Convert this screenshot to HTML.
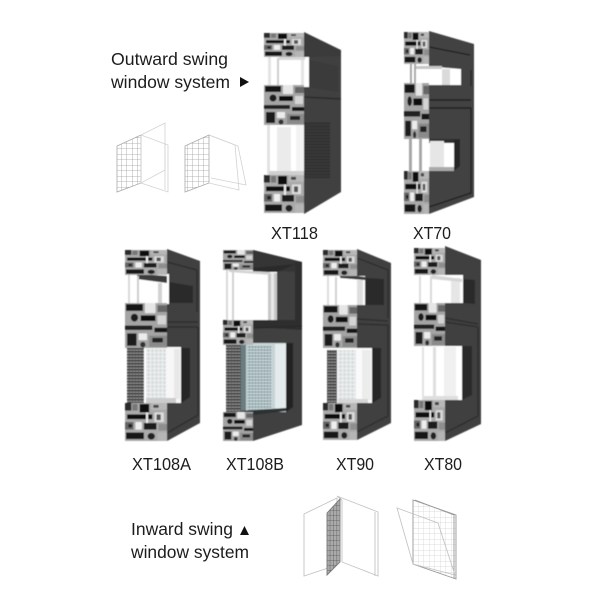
<!DOCTYPE html>
<html><head><meta charset="utf-8"><style>
html,body{margin:0;padding:0;background:#fff}
svg{display:block}
text{font-family:"Liberation Sans",sans-serif;fill:#1c1c1c}
</style></head><body>
<svg xmlns="http://www.w3.org/2000/svg" width="600" height="600" viewBox="0 0 600 600">
<defs>
<filter id="b" x="-5%" y="-5%" width="110%" height="110%"><feGaussianBlur stdDeviation="0.5"/></filter>
<filter id="w" x="-5%" y="-5%" width="110%" height="110%"><feGaussianBlur stdDeviation="0.25"/></filter>
<pattern id="mesh" width="3" height="3" patternUnits="userSpaceOnUse"><rect width="3" height="3" fill="#8d8d8d"/><rect width="3" height="1.4" fill="#2b2b2b"/><rect width="0.7" height="3" fill="#555"/></pattern>
<pattern id="meshd" width="3" height="3" patternUnits="userSpaceOnUse"><rect width="3" height="3" fill="#383838"/><rect width="3" height="1" fill="#2b2b2b"/></pattern>
<pattern id="gl" width="4" height="4" patternUnits="userSpaceOnUse"><rect width="4" height="4" fill="#e4e7e7"/><rect width="1" height="4" fill="#cbd2d2"/><rect width="4" height="1" fill="#f0f2f2"/></pattern>
<pattern id="gb" width="3" height="3" patternUnits="userSpaceOnUse"><rect width="3" height="3" fill="#a9bcc0"/><rect width="1" height="3" fill="#7d9095"/><rect width="3" height="1" fill="#cbd8da"/></pattern>
<pattern id="gr" width="5.5" height="5.5" patternUnits="userSpaceOnUse"><path d="M0 0H5.5M0 0V5.5" stroke="#a0a0a0" stroke-width="0.8" fill="none"/></pattern>
<pattern id="grl" width="5.5" height="5.5" patternUnits="userSpaceOnUse"><path d="M0 0H5.5M0 0V5.5" stroke="#d2d2d2" stroke-width="0.7" fill="none"/></pattern>
<pattern id="grd" width="3.4" height="5" patternUnits="userSpaceOnUse"><rect width="3.4" height="5" fill="#aaa"/><path d="M0 0H3.4M0 0V5" stroke="#555" stroke-width="0.8" fill="none"/></pattern>
<symbol id="p1" viewBox="0 0 40 40" preserveAspectRatio="none">
<rect width="40" height="40" fill="#aaa"/>
<rect x="0" y="0" width="6" height="8" fill="#2a2a2a"/><rect x="7" y="1" width="5" height="7" fill="#777"/><rect x="14" y="1" width="9" height="9" fill="#111"/><rect x="25" y="0" width="15" height="7" fill="#b8b8b8"/><rect x="27" y="2" width="5" height="3" fill="#444"/>
<rect x="2" y="12" width="24" height="5" fill="#0c0c0c"/><rect x="28" y="10" width="9" height="10" fill="#ddd"/><rect x="30" y="12" width="4" height="6" fill="#555"/>
<rect x="0" y="20" width="8" height="8" fill="#666"/><rect x="10" y="20" width="6" height="8" fill="#eee"/><rect x="18" y="21" width="12" height="7" fill="#1a1a1a"/><rect x="32" y="22" width="8" height="7" fill="#8e8e8e"/>
<rect x="1" y="31" width="17" height="7" fill="#151515"/><circle cx="25" cy="35" r="3.5" fill="#222"/><rect x="31" y="31" width="9" height="9" fill="#b5b5b5"/>
<circle cx="5" cy="24" r="2" fill="#222"/><rect x="20" y="10" width="2" height="11" fill="#eee"/>
</symbol>
<symbol id="p2" viewBox="0 0 40 40" preserveAspectRatio="none">
<rect width="40" height="40" fill="#a4a4a4"/>
<rect x="1" y="1" width="16" height="6" fill="#151515"/><rect x="19" y="0" width="10" height="9" fill="#e6e6e6"/><rect x="31" y="2" width="9" height="6" fill="#666"/>
<circle cx="9" cy="13" r="3.5" fill="#1a1a1a"/><rect x="15" y="11" width="14" height="5" fill="#111"/><rect x="31" y="11" width="8" height="8" fill="#d4d4d4"/>
<rect x="0" y="20" width="26" height="4" fill="#222"/><rect x="28" y="22" width="12" height="4" fill="#151515"/>
<rect x="2" y="27" width="9" height="11" fill="#1a1a1a"/><rect x="13" y="27" width="8" height="6" fill="#ececec"/><circle cx="17" cy="37" r="2.5" fill="#333"/><rect x="23" y="29" width="17" height="10" fill="#8a8a8a"/><rect x="26" y="31" width="10" height="4" fill="#222"/>
</symbol>
</defs>
<rect width="600" height="600" fill="#fff"/>

<g filter="url(#b)">
<!-- XT118 -->
<polygon points="304,32 341,50 341,192 304,214" fill="#414141"/>
<polygon points="304,33 341,51 341,56 304,57" fill="#3a3a3a"/>
<rect x="264" y="57" width="45" height="30" fill="#fff"/>
<polygon points="309,60 338,66 338,92 309,87" fill="#3a3a3a"/>
<rect x="268" y="57" width="3" height="29" fill="#e4e4e4"/><rect x="277" y="58" width="2" height="28" fill="#ccc"/><rect x="301" y="60" width="3" height="26" fill="#e4e4e4"/><rect x="279" y="57" width="26" height="3" fill="#d8d8d8"/>
<rect x="304" y="122" width="26" height="56" fill="url(#meshd)"/>
<rect x="266" y="125" width="38" height="50" fill="#fff"/>
<rect x="267" y="125" width="3" height="50" fill="#e2e2e2"/><rect x="277" y="127" width="14" height="46" fill="#ebebeb"/><rect x="296" y="125" width="8" height="50" fill="#f3f3f3"/><rect x="269" y="171" width="35" height="4" fill="#d0d0d0"/>
<use href="#p1" x="264" y="33" width="40" height="24"/>
<use href="#p2" x="264" y="85" width="40" height="40"/>
<use href="#p1" x="264" y="175" width="40" height="38"/>
<line x1="304" y1="97" x2="341" y2="99" stroke="#2a2a2a" stroke-width="1.5"/>

<!-- XT70 -->
<polygon points="429,31 474,44 474,197 429,214" fill="#434343"/>
<path d="M429 47L470 55M429 100L471 100M429 108L471 108M471 108V193L429 207" stroke="#1f1f1f" stroke-width="1.4" fill="none"/>
<path d="M471 70V86" stroke="#222" stroke-width="1.2"/>
<polygon points="412,65 461,69 461,85 412,85" fill="#fff"/>
<rect x="442" y="69" width="8" height="16" fill="#dadada"/><rect x="414" y="66" width="28" height="3" fill="#c6c6c6"/>
<rect x="412" y="139" width="42" height="32" fill="#fff"/><polygon points="454,139 460,139 460,166 454,171" fill="#262626"/>
<polygon points="429,139 454,139 454,143 429,143" fill="#2d2d2d"/>
<rect x="430" y="141" width="14" height="28" fill="#e6e6e6"/><rect x="429" y="167" width="25" height="4" fill="#aaa"/>
<rect x="410" y="64" width="2" height="20" fill="#a6a6a6"/><rect x="414" y="64" width="2" height="20" fill="#a6a6a6"/>
<rect x="409" y="139" width="3" height="32" fill="#a6a6a6"/><rect x="419" y="139" width="3" height="32" fill="#a6a6a6"/>
<use href="#p1" x="404" y="32" width="25" height="32"/>
<use href="#p2" x="404" y="83" width="25" height="56"/>
<use href="#p1" x="404" y="171" width="25" height="43"/>

<!-- XT108A -->
<polygon points="167,249 200,261 200,423 167,441" fill="#414141"/>
<path d="M167 262L197 270V312M167 322L198 322M167 327L198 327M198 327V415L167 433" stroke="#2a2a2a" stroke-width="1.2" fill="none"/>
<polygon points="169,282 193,286 193,303 169,303" fill="#2c2c2c"/>
<rect x="127" y="274" width="42" height="30" fill="#fff"/>
<polygon points="137,274 167,276 167,283 137,279" fill="#3a3a3a"/>
<rect x="128" y="274" width="2" height="29" fill="#d8d8d8"/><rect x="137" y="276" width="2" height="27" fill="#ccc"/><rect x="158" y="283" width="4" height="20" fill="#d2d2d2"/>
<polygon points="181,348 190,348 190,397 181,403" fill="#262626"/>
<rect x="127" y="348" width="17" height="55" fill="url(#mesh)"/>
<rect x="144" y="347" width="37" height="56" fill="#f7f7f7"/>
<rect x="146" y="349" width="20" height="52" fill="url(#gl)"/><rect x="174" y="349" width="6" height="50" fill="#e8e8e8"/>
<rect x="144" y="347" width="2" height="56" fill="#fff"/><rect x="146" y="398" width="30" height="5" fill="#ccc"/>
<use href="#p1" x="125" y="250" width="42" height="25"/>
<use href="#p2" x="125" y="303" width="42" height="45"/>
<use href="#p1" x="125" y="403" width="42" height="38"/>

<!-- XT108B -->
<polygon points="253,250 302,262 302,425 253,441" fill="#3f3f3f"/>
<polygon points="253,250 302,262 302,272 253,270" fill="#353535"/>
<polygon points="228,270 277,272 277,320 228,320" fill="#fff"/>
<polygon points="253,268 296,264 277,272 253,272" fill="#2a2a2a"/>
<rect x="268" y="273" width="9" height="47" fill="#c6c6c6"/><rect x="271" y="273" width="3" height="47" fill="#e8e8e8"/>
<rect x="226" y="270" width="2" height="50" fill="#d8d8d8"/><rect x="232" y="270" width="2" height="50" fill="#d0d0d0"/>
<polygon points="229,270 270,272 270,275 229,272" fill="#d2d2d2"/>
<polygon points="277,320 295,320 295,262 302,262 302,330 253,327 253,320" fill="#2f2f2f"/>
<polygon points="286,343 293,343 293,407 286,412" fill="#232323"/>
<rect x="226" y="343" width="15" height="69" fill="url(#mesh)"/>
<rect x="241" y="343" width="45" height="69" fill="#c6d4d6"/>
<rect x="247" y="345" width="24" height="66" fill="url(#gb)"/><rect x="241" y="343" width="5" height="69" fill="#6a7d81"/><rect x="275" y="344" width="11" height="66" fill="#e4ebec"/>
<polygon points="240,411 286,408 286,411 253,415 240,414" fill="#2b3030"/>
<use href="#p2" x="223" y="250" width="30" height="20"/>
<use href="#p1" x="223" y="320" width="30" height="25"/>
<use href="#p2" x="223" y="412" width="30" height="29"/>
<path d="M253 328L302 326" stroke="#282828" stroke-width="1.2"/>

<!-- XT90 -->
<polygon points="357,249 391,263 391,423 357,440" fill="#414141"/>
<path d="M357 258L388 270V318M357 319L388 321M357 324L388 325M388 325V416L357 432" stroke="#2a2a2a" stroke-width="1.2" fill="none"/>
<rect x="326" y="276" width="39" height="29" fill="#fff"/>
<polygon points="366,278 384,279 384,305 366,305" fill="#2a2a2a"/>
<polygon points="340,274 365,277 365,280 340,278" fill="#3a3a3a"/>
<rect x="327" y="276" width="2" height="29" fill="#dcdcdc"/><rect x="335" y="277" width="2" height="28" fill="#d0d0d0"/><rect x="357" y="280" width="6" height="25" fill="#dedede"/>
<polygon points="372,348 381,348 381,398 372,403" fill="#272727"/>
<rect x="327" y="350" width="10" height="53" fill="url(#mesh)"/>
<rect x="337" y="348" width="35" height="55" fill="#fafafa"/>
<rect x="338" y="350" width="18" height="50" fill="url(#gl)"/><rect x="362" y="350" width="9" height="50" fill="#ececec"/><rect x="338" y="399" width="30" height="4" fill="#d6d6d6"/>
<use href="#p1" x="323" y="250" width="34" height="26"/>
<use href="#p2" x="323" y="305" width="34" height="43"/>
<use href="#p1" x="323" y="403" width="34" height="37"/>

<!-- XT80 -->
<polygon points="445,246 481,260 481,424 445,441" fill="#414141"/>
<path d="M445 318L478 324M445 322L478 327M478 327V416L445 433" stroke="#2a2a2a" stroke-width="1.2" fill="none"/>
<rect x="418" y="275" width="45" height="28" fill="#fff"/>
<polygon points="463,279 475,280 475,304 463,303" fill="#2a2a2a"/>
<rect x="419" y="276" width="2" height="27" fill="#dcdcdc"/><rect x="430" y="276" width="2" height="27" fill="#d8d8d8"/><rect x="451" y="278" width="9" height="25" fill="#e6e6e6"/><polygon points="432,275 462,279 462,282 432,279" fill="#d6d6d6"/>
<polygon points="462,346 472,346 472,395 462,400" fill="#2b2b2b"/>
<rect x="418" y="346" width="44" height="54" fill="#fff"/>
<rect x="422" y="347" width="2" height="53" fill="#e2e2e2"/><rect x="433" y="347" width="3" height="53" fill="#dedede"/><rect x="444" y="347" width="12" height="52" fill="#f0f0f0"/><rect x="424" y="396" width="34" height="4" fill="#dedede"/>
<use href="#p1" x="414" y="248" width="31" height="27"/>
<use href="#p2" x="414" y="303" width="31" height="43"/>
<use href="#p1" x="414" y="400" width="31" height="41"/>
</g>

<g filter="url(#w)">
<!-- wire icon 1 -->
<g fill="none" stroke="#d2d2d2" stroke-width="0.8">
<polygon points="117,146 141,135 141,183 117,192" fill="url(#gr)" stroke="#aaa"/>
<polygon points="141,135 165,123 165,170 141,183"/>
<polyline points="141,135 168,145 168,192 141,183"/>
<polyline points="165,143 165,190"/>
<!-- wire icon 2 -->
<polygon points="185,146 209,135 209,183 185,192" fill="url(#gr)" stroke="#aaa"/>
<polyline points="209,135 238,146 246,185 211,178"/>
<polyline points="209,135 235,145 239,190 209,183"/>
</g>

<!-- wire icon 3 -->
<g fill="none" stroke="#c4c4c4" stroke-width="0.9">
<polygon points="304,514 337,498 337,565 304,576"/>
<polygon points="337,496 378,512 378,576 342,562 342,500"/>
<line x1="375" y1="512" x2="375" y2="576"/>
<polygon points="327,513 340,499 340,562 327,575" fill="url(#grd)" stroke="#777"/>
<!-- wire icon 4 -->
<polygon points="413,500 456,515 456,579 413,564" fill="url(#grl)" stroke="#999"/>
<polyline points="415,500 454,515 454,578" stroke="#999"/>
<polygon points="397,508 438,523 455,575 413,564"/>
</g>
</g>

<!-- labels -->
<text x="111" y="65" font-size="17.5" textLength="117" lengthAdjust="spacingAndGlyphs">Outward swing</text>
<text x="111" y="88" font-size="17.5" textLength="119" lengthAdjust="spacingAndGlyphs">window system</text>
<polygon points="240,77 249,82 240,87" fill="#111"/>
<text x="271" y="239" font-size="17.5" textLength="47" lengthAdjust="spacingAndGlyphs">XT118</text>
<text x="413" y="239" font-size="17.5" textLength="38" lengthAdjust="spacingAndGlyphs">XT70</text>
<text x="132" y="470" font-size="17.5" textLength="59" lengthAdjust="spacingAndGlyphs">XT108A</text>
<text x="226" y="470" font-size="17.5" textLength="58" lengthAdjust="spacingAndGlyphs">XT108B</text>
<text x="336" y="470" font-size="17.5" textLength="38" lengthAdjust="spacingAndGlyphs">XT90</text>
<text x="424" y="470" font-size="17.5" textLength="38" lengthAdjust="spacingAndGlyphs">XT80</text>
<text x="131" y="535" font-size="17.5" textLength="102" lengthAdjust="spacingAndGlyphs">Inward swing</text>
<polygon points="240,535 244.5,526 249,535" fill="#111"/>
<text x="131" y="558" font-size="17.5" textLength="118" lengthAdjust="spacingAndGlyphs">window system</text>
</svg>
</body></html>
